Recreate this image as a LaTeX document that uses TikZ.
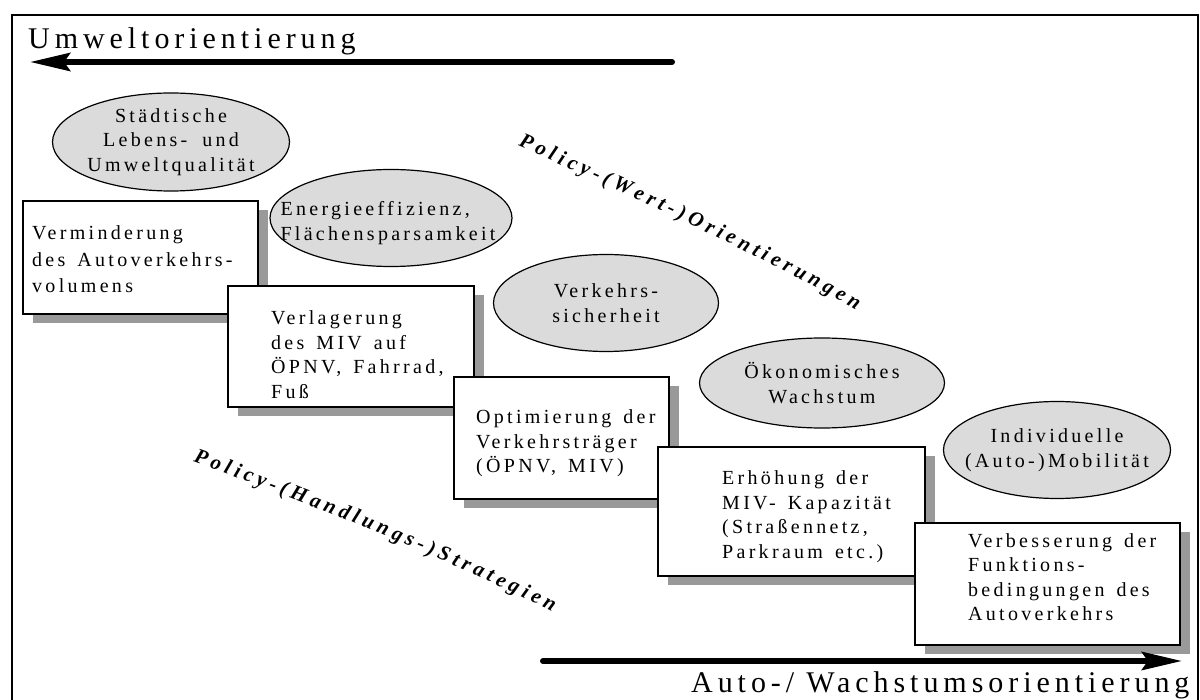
\documentclass[tikz,border=0pt]{standalone}
\usepackage{fontspec}
\setmainfont{Liberation Serif}[LetterSpace=16.5,WordSpace=1.8,Ligatures=NoCommon]
\usetikzlibrary{shapes.geometric,shadows,arrows.meta,decorations.text}

\begin{document}
\begin{tikzpicture}[x=1pt, y=-1pt,
	stufe/.style={draw, line width=1.8pt, fill=white, inner sep=0pt,
		drop shadow={shadow xshift=10pt, shadow yshift=-9pt, fill=black!40, opacity=1}},
	oval/.style={draw, ellipse, line width=1.2pt, fill=black!14, inner sep=0pt},
	boxtext/.style={anchor=base west, inner sep=0pt, text width=230pt, font=\fontsize{20}{24.5}\selectfont,
		execute at begin node={\spaceskip=12pt plus 2pt\relax}},
	ovaltext/.style={inner sep=0pt, align=center, font=\fontsize{20}{24.5}\selectfont},
	titel/.style={anchor=base west, inner sep=0pt, font=\fontsize{30}{36}\selectfont},
	bigarrow/.style={line width=6pt, line cap=round, -{Stealth[length=40pt, width=18pt, inset=6pt]}},
	policy/.style={decorate, decoration={text along path, text align={fit to path},
		text={|\fontsize{21}{21}\selectfont\bfseries\itshape|#1}}}]
						\useasboundingbox (0,0) rectangle (1200,700);
						\draw[line width=2pt] (12,15) rectangle (1198,712);
						\node[titel] (umwelt) at (28,49) {Umweltorientierung};
						\coordinate (u0) at (672,62);
						\coordinate (u1) at (30,62);
						\draw[bigarrow] (u0) -- (u1);
						\foreach \n/\cx/\cy/\w/\h in {1/140.5/257.5/235/113, 2/351/346.5/246/121, 3/561.5/438/215/122, 4/791.5/511.5/267/129, 5/1047.5/584/265/122}
						    \node[stufe, minimum width=\w, minimum height=\h] (b\n) at (\cx,\cy) {};
						\node[boxtext, font=\fontsize{20}{26.5}\selectfont] (t1) at (32,240) {Verminderung\\des Autoverkehrs-\\volumens};
						\node[boxtext] (t2) at (271,325) {Verlagerung\\des MIV auf\\ÖPNV, Fahrrad,\\Fuß};
						\node[boxtext] (t3) at (476,424) {Optimierung der\\Verkehrsträger\\(ÖPNV, MIV)};
						\node[boxtext] (t4) at (722,485) {Erhöhung der\\MIV- Kapazität\\(Straßennetz,\\Parkraum etc.)};
						\node[boxtext] (t5) at (968,547) {Verbesserung der\\Funktions-\\bedingungen des\\Autoverkehrs};
						\foreach \n/\cx/\cy/\w/\h in {1/171/142/237/98, 2/391/218/242/97, 3/606/303/225/97, 4/822/383/245/90, 5/1057/450/227/97}
						    \node[oval, minimum width=\w, minimum height=\h] (e\n) at (\cx,\cy) {};
						\node[ovaltext] (o1) at (e1) {Städtische\\Lebens- und\\Umweltqualität};
						\node[ovaltext, align=left] (o2) at ([xshift=-3pt, yshift=-5pt]e2.center) {Energieeffizienz,\\Flächensparsamkeit};
						\node[ovaltext] (o3) at (e3) {Verkehrs-\\sicherheit};
						\node[ovaltext] (o4) at (e4) {Ökonomisches\\Wachstum};
						\node[ovaltext] (o5) at (e5) {Individuelle\\(Auto-)Mobilität};
						\path[policy={Policy-(Wert-)Orientierungen}] (518,146) .. controls (630,195) and (760,255) .. (856,310);
						\path[policy={Policy-(Handlungs-)Strategien}] (193,462) .. controls (300,500) and (440,555) .. (552,612);
						\coordinate (a0) at (543,661);
						\coordinate (a1) at (1182,661);
						\draw[bigarrow] (a0) -- (a1);
						\node[titel] (auto) at (691,692) {Auto-/\hspace{12pt}Wachstumsorientierung};
\end{tikzpicture}
\end{document}
